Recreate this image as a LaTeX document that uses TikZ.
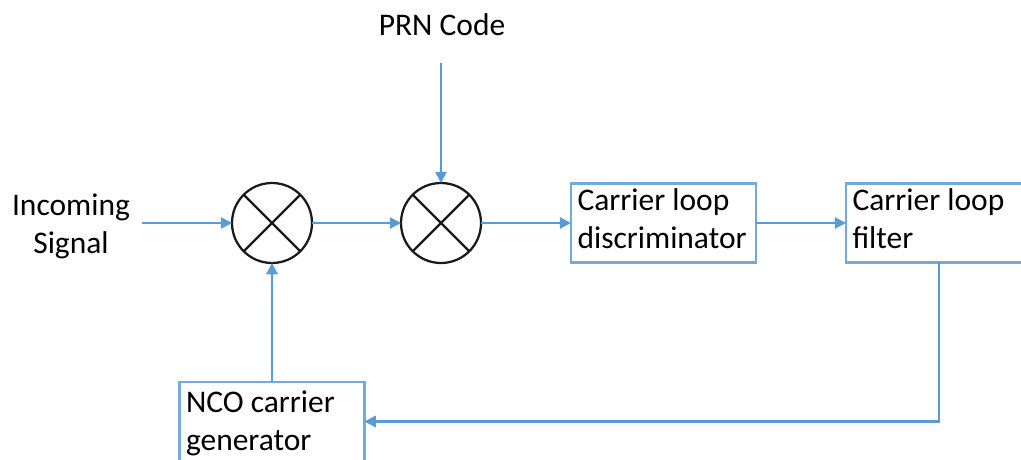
\documentclass[tikz,border=0pt]{standalone}
\usepackage{fontspec}
\setmainfont{Carlito}
\usetikzlibrary{positioning}
\usetikzlibrary{calc,arrows.meta}
\definecolor{lineblue}{HTML}{5B9BD5}
\definecolor{frameblue}{HTML}{74A9DB}

\begin{document}
\begin{tikzpicture}[every node/.style={outer sep=0pt},
		mixer/.style={draw=black!90,circle,line width=1.6pt,minimum size=2cm,inner sep=0pt},
		block/.style={draw=frameblue,line width=1.8pt,minimum width=4.625cm,minimum height=1.975cm,inner sep=0pt,text width=4.3cm,text height=17pt,text depth=30pt,align=flush left,font=\fontsize{22.4}{26.9}\selectfont},
		label/.style={align=center,inner sep=0pt,font=\fontsize{22.4}{26.9}\selectfont},
		link/.style={draw=lineblue,line width=1.5pt,-{Triangle[length=8pt,width=8pt]}}
		]
		\clip (0,0) rectangle (25.525,11.475);

		\node[mixer] (mix1) at (6.8,5.9) {};
		\node[mixer] (mix2) at (11.025,5.9) {};
		\node[block,text depth=34.5pt] (disc) at (16.5875,5.9) {Carrier loop\\discriminator};
		\node[block,text depth=34.5pt] (filt) at (23.4625,5.9) {Carrier loop\\filter};
		\node[block] (nco) at (6.8,0.9375) {NCO carrier\\generator};
		\node[label] (incoming) at (1.775,5.825) {Incoming\\Signal};
		\node[label,anchor=center] (prn) at (11.05,10.85) {PRN Code};

		\coordinate (inStart) at (3.55,5.9);
		\coordinate (prnStart) at (11.025,9.9);
		\coordinate (filtOut) at (23.475,4.925);

		\foreach \m in {mix1,mix2}{
			\draw[black!90,line width=1.6pt] (\m.north west) -- (\m.south east);
			\draw[black!90,line width=1.6pt] (\m.south west) -- (\m.north east);
		}

		\draw[link] (inStart) -- (mix1);
		\draw[link] (mix1) -- (mix2);
		\draw[link] (mix2) -- (disc);
		\draw[link] (disc) -- (filt);
		\draw[link] (prnStart) -- (mix2);
		\draw[link] (nco) -- (mix1);
		\draw[link] (filtOut) |- (nco);
	\end{tikzpicture}
\end{document}
